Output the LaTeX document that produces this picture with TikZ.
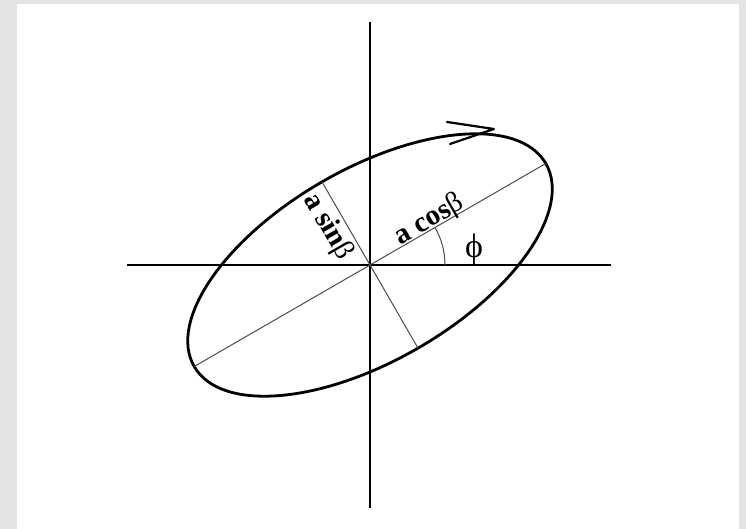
\documentclass[tikz,border=0pt]{standalone}
\usepackage{fontspec}
\setmainfont{Liberation Serif}
\usetikzlibrary{calc}
\begin{document}
\begin{tikzpicture}[x=1pt,y=1pt,
  axis/.style={line width=2.8pt, black},
  curve/.style={line width=2.8pt, black},
  guide/.style={line width=1pt, black!70},
  chev/.style={line width=2.2pt, black, line cap=round, line join=round},
  lbl/.style={font=\fontsize{29}{31}\selectfont, inner sep=1pt}]
\useasboundingbox (0,0) rectangle (746,-529);
\fill[gray!22] (0,0) rectangle (746,-529);
\fill[white] (17,-4) rectangle (739,-529);
\coordinate (O) at (370,-265);
\coordinate (yt) at (370,-22);
\coordinate (yb) at (370,-508);
\coordinate (xl) at (127,-265);
\coordinate (xr) at (611,-265);
\draw[axis] (yt) -- (yb);
\draw[axis] (xl) -- (xr);
\draw[curve, rotate around={30:(O)}] (O) ellipse [x radius=203, y radius=96];
\coordinate (M1) at ($(O)+(30:203)$);
\coordinate (M2) at ($(O)+(210:203)$);
\coordinate (N1) at ($(O)+(120:96)$);
\coordinate (N2) at ($(O)+(-60:96)$);
\draw[guide] (M2) -- (M1);
\draw[guide] (N1) -- (N2);
\draw[guide] ($(O)+(75,0)$) arc[start angle=0, end angle=30, radius=75];
\coordinate (tip) at (494,-129);
\coordinate (a1) at (447,-122);
\coordinate (a2) at (450,-144);
\draw[chev] (a1) -- (tip) -- (a2);
\node[lbl, rotate=30, anchor=base] (lc) at ($(O)+(30:74)+(120:2)$) {\textbf{a cos}β};
\node[lbl, rotate=-60, anchor=north] (ls) at ($(O)+(120:54)+(210:3)$) {\textbf{a sin}β};
\node[lbl, font=\fontsize{34}{36}\selectfont, anchor=south, inner sep=0.5pt] (phi) at (474,-265) {ϕ};
\end{tikzpicture}
\end{document}
